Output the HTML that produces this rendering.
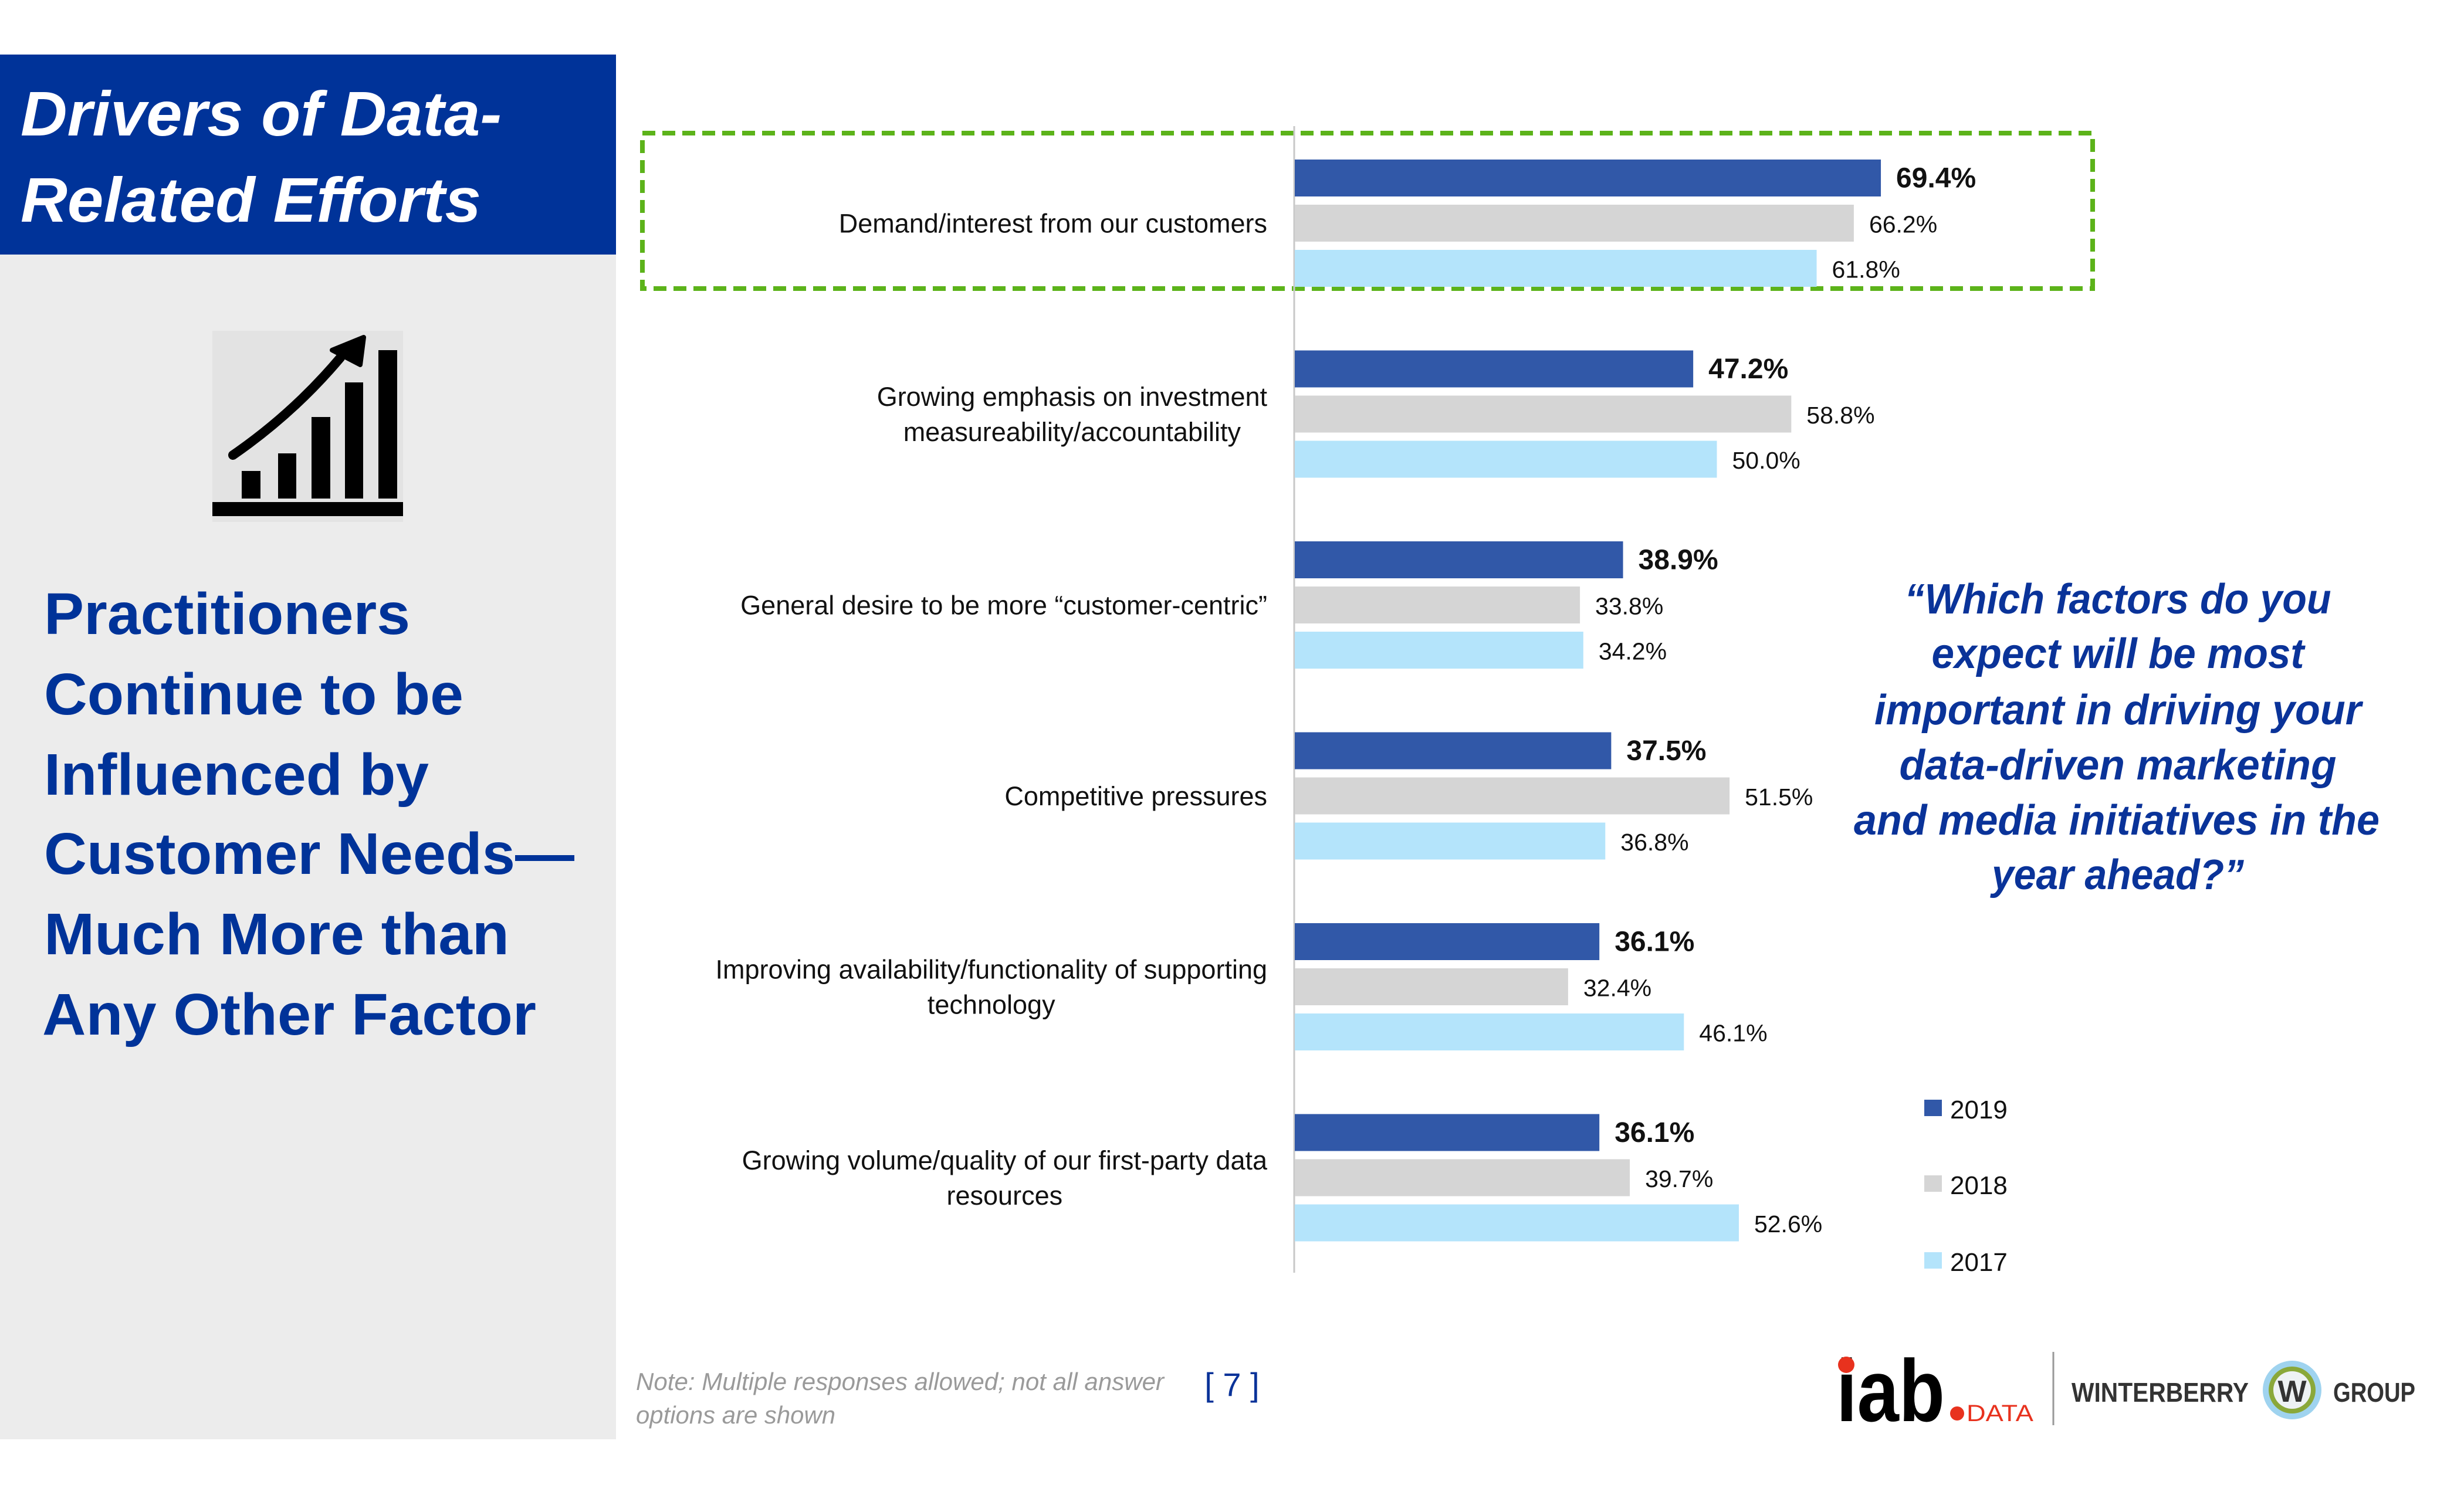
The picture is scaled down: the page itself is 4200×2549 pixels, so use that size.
<!DOCTYPE html>
<html><head><meta charset="utf-8"><style>
html,body{margin:0;padding:0;background:#fff;}
svg{display:block;}
text{font-family:"Liberation Sans",sans-serif;}
</style></head><body>
<svg id="root" width="4200" height="2549" viewBox="0 0 4200 2549" xmlns="http://www.w3.org/2000/svg">
<rect x="0" y="434" width="1050" height="2020" fill="#ececec"/>
<rect x="0" y="93" width="1050" height="341" fill="#003399"/>
<g fill="#fff" font-weight="bold" font-style="italic" font-size="108">
<text x="35" y="231" textLength="820" lengthAdjust="spacingAndGlyphs">Drivers of Data-</text>
<text x="35" y="378" textLength="785" lengthAdjust="spacingAndGlyphs">Related Efforts</text>
</g>
<g>
<rect x="362" y="564" width="325" height="326" fill="#e3e3e3"/>
<rect x="362" y="856" width="325" height="24" fill="#000"/>
<rect x="412" y="803" width="32" height="47" fill="#000"/>
<rect x="474" y="773" width="31" height="77" fill="#000"/>
<rect x="531" y="711" width="32" height="139" fill="#000"/>
<rect x="588" y="652" width="31" height="198" fill="#000"/>
<rect x="645" y="597" width="32" height="253" fill="#000"/>
<path d="M397 776 Q500 705 580 610" stroke="#000" stroke-width="16" fill="none" stroke-linecap="round"/>
<path d="M566 597 L620 575 L614 622 Z" fill="#000" stroke="#000" stroke-width="8" stroke-linejoin="round"/>
</g>
<g fill="#003399" font-weight="bold" font-size="100">
<text x="75" y="1081" textLength="624" lengthAdjust="spacingAndGlyphs">Practitioners</text>
<text x="75" y="1218" textLength="715" lengthAdjust="spacingAndGlyphs">Continue to be</text>
<text x="75" y="1355" textLength="656" lengthAdjust="spacingAndGlyphs">Influenced by</text>
<text x="75" y="1490" textLength="904" lengthAdjust="spacingAndGlyphs">Customer Needs—</text>
<text x="75" y="1627" textLength="793" lengthAdjust="spacingAndGlyphs">Much More than</text>
<text x="72" y="1764" textLength="842" lengthAdjust="spacingAndGlyphs">Any Other Factor</text>
</g>
<rect x="1095" y="227" width="2472" height="265" fill="none" stroke="#5cb31a" stroke-width="8" stroke-dasharray="22 12"/>
<g id="chart"></g>
<g fill="#0a3399" font-weight="bold" font-style="italic" font-size="72" text-anchor="middle">
<text x="3610" y="1046" textLength="727" lengthAdjust="spacingAndGlyphs">“Which factors do you</text>
<text x="3610" y="1139" textLength="635" lengthAdjust="spacingAndGlyphs">expect will be most</text>
<text x="3610" y="1235" textLength="830" lengthAdjust="spacingAndGlyphs">important in driving your</text>
<text x="3610" y="1329" textLength="745" lengthAdjust="spacingAndGlyphs">data-driven marketing</text>
<text x="3608" y="1423" textLength="896" lengthAdjust="spacingAndGlyphs">and media initiatives in the</text>
<text x="3610" y="1516" textLength="430" lengthAdjust="spacingAndGlyphs">year ahead?”</text>
</g>
<g id="legend"></g>
<g fill="#9a9a9a" font-style="italic" font-size="42">
<text x="1084" y="2370" textLength="900" lengthAdjust="spacingAndGlyphs">Note: Multiple responses allowed; not all answer</text>
<text x="1084" y="2427" textLength="340" lengthAdjust="spacingAndGlyphs">options are shown</text>
</g>
<text x="2100" y="2380" fill="#0a3399" font-size="56" text-anchor="middle">[ 7 ]</text>
<g>
<text x="3130" y="2423" font-size="150" font-weight="bold" fill="#000" textLength="185" lengthAdjust="spacingAndGlyphs">iab</text>
<circle cx="3147" cy="2327" r="14" fill="#e8321e"/>
<circle cx="3336" cy="2410" r="12" fill="#e8321e"/>
<text x="3352" y="2423" font-size="40" fill="#e8321e" textLength="114" lengthAdjust="spacingAndGlyphs">DATA</text>
</g>
<line x1="3500" y1="2305" x2="3500" y2="2430" stroke="#999" stroke-width="3"/>
<g>
<text x="3531" y="2390" font-size="46" font-weight="bold" fill="#333" textLength="302" lengthAdjust="spacingAndGlyphs">WINTERBERRY</text>
<circle cx="3907" cy="2370" r="50" fill="#9fd3ef"/>
<circle cx="3907" cy="2370" r="40" fill="#8aa83a"/>
<circle cx="3907" cy="2370" r="32" fill="#eef2f4"/>
<text x="3907" y="2390" font-size="52" font-weight="bold" fill="#333" text-anchor="middle">W</text>
<text x="3977" y="2390" font-size="46" font-weight="bold" fill="#333" textLength="140" lengthAdjust="spacingAndGlyphs">GROUP</text>
</g>
</svg>
<script>
const categories = [
  ["Demand/interest from our customers"],
  ["Growing emphasis on investment", "measureability/accountability"],
  ["General desire to be more “customer-centric”"],
  ["Competitive pressures"],
  ["Improving availability/functionality of supporting", "technology"],
  ["Growing volume/quality of our first-party data", "resources"]
];
const seriesNames = ["2019", "2018", "2017"];
const values2019 = [69.4, 47.2, 38.9, 37.5, 36.1, 36.1];
const values2018 = [66.2, 58.8, 33.8, 51.5, 32.4, 39.7];
const values2017 = [61.8, 50.0, 34.2, 36.8, 46.1, 52.6];
const seriesColors = ["#3158a8", "#d5d5d5", "#b4e4fb"];

const NS = "http://www.w3.org/2000/svg";
const axisX = 2206, pxPerPct = 14.41;
const groupTop = 272, groupStep = 325.5, barStep = 77, barH = 63;
const labelRight = 2160;
function xScale(v){ return axisX + v * pxPerPct; }
function groupY(i){ return groupTop + i * groupStep; }
function mk(tag, attrs, parent){ const e=document.createElementNS(NS,tag); for(const k in attrs) e.setAttribute(k,attrs[k]); parent.appendChild(e); return e; }

const chart = document.getElementById("chart");
const axis = mk("line",{x1:axisX,y1:215,x2:axisX,y2:2170,stroke:"#c8c8c8","stroke-width":3},chart);



const all = [values2019, values2018, values2017];
categories.forEach((lines, i) => {
  const g0 = groupY(i);
  const center = g0 + barStep + barH/2;
  const lab = mk("text",{"text-anchor":"middle","font-size":45,fill:"#111"},chart);
  
  
  const spans = lines.map((ln, j) => {
    const t = mk("tspan",{y:center + 16 + (j - (lines.length-1)/2) * 60},lab);
    t.textContent = ln;
    return t;
  });
  let maxW = 0;
  spans.forEach(t => { maxW = Math.max(maxW, t.getComputedTextLength()); });
  const cx = labelRight - maxW/2;
  spans.forEach(t => t.setAttribute("x", cx));
  all.forEach((vals, s) => {
    const y = g0 + s * barStep;
    const r = mk("rect",{x:axisX+1,y:y,width:xScale(vals[i])-axisX-1,height:barH,fill:seriesColors[s]},chart);
    
    
    const tv = mk("text",{x:xScale(vals[i])+26,y:y+barH/2+16,"font-size":s===0?48:41,"font-weight":s===0?"bold":"normal",fill:"#111"},chart);
    
    
    tv.textContent = vals[i].toFixed(1) + "%";
  });
});

const legend = document.getElementById("legend");
const legendY = [1891, 2020, 2151];
seriesNames.forEach((n, s) => {
  const sw = mk("rect",{x:3280,y:legendY[s]-16,width:30,height:28,fill:seriesColors[s]},legend);
  
  
  const t = mk("text",{x:3324,y:legendY[s]+16,"font-size":44,fill:"#111"},legend);
  
  
  t.textContent = n;
});
</script>
</body></html>
